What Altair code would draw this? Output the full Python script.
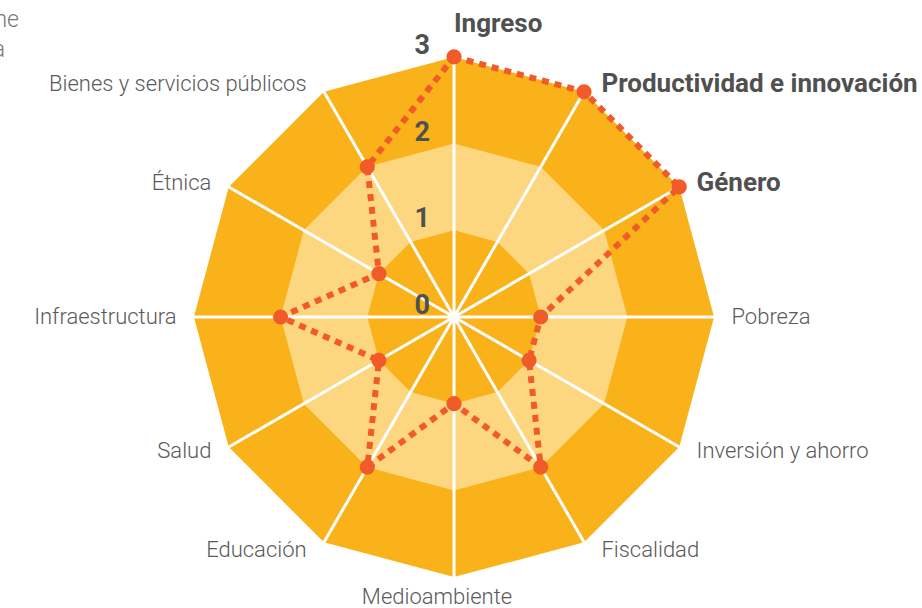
import math
import altair as alt
import pandas as pd

# ---- data ----
categories = ["Ingreso", "Productividad e innovación", "Género", "Pobreza",
              "Inversión y ahorro", "Fiscalidad", "Medioambiente", "Educación",
              "Salud", "Infraestructura", "Étnica", "Bienes y servicios públicos"]
values = [3, 3, 3, 1, 1, 2, 1, 2, 1, 2, 1, 2]
highlight = ["Ingreso", "Productividad e innovación", "Género"]
levels = [0, 1, 2, 3]
corner_note = ["ne", "a"]

MAXV = 3
DARK = "#F9B219"
LIGHT = "#FDD680"
RED = "#F15A29"
TXT = "#505050"
LTXT = "#5a5a5a"
FONT = "Roboto"

n = len(categories)
ang = [math.radians(90 - 360 / n * i) for i in range(n)]

df = pd.DataFrame({
    "cat": categories,
    "value": values,
    "idx": list(range(n)),
    "cos": [math.cos(a) for a in ang],
    "sin": [math.sin(a) for a in ang],
})
df["bold"] = df["cat"].isin(highlight)
df["x"] = df["value"] * df["cos"]
df["y"] = df["value"] * df["sin"]
df["ax"] = MAXV * df["cos"]
df["ay"] = MAXV * df["sin"]

closed = pd.concat([df, df.iloc[[0]].assign(idx=n)], ignore_index=True)

# polygon bands (symmetric dodecagon drawn as area between upper and lower halves)
def band(r):
    rows = []
    for k in range(0, 7):
        t = math.radians(30 * k)
        rows.append({"x": r * math.cos(t), "y": r * math.sin(t), "y2": -r * math.sin(t)})
    return pd.DataFrame(rows)

# pixel mapping: centre (454, 317), 86.7 px per unit
PX = 86.7
W, H = 922, 608
CX, CY = 454, 317
xs = alt.Scale(domain=[-CX / PX, (W - CX) / PX], nice=False, zero=False)
ys = alt.Scale(domain=[-(H - CY) / PX, CY / PX], nice=False, zero=False)
X = lambda f: alt.X(f, type="quantitative", scale=xs, axis=None)
Y = lambda f: alt.Y(f, type="quantitative", scale=ys, axis=None)

layers = []
for r, col in zip([3, 2, 1], [DARK, LIGHT, DARK]):
    layers.append(alt.Chart(band(r)).mark_area(color=col, opacity=1).encode(
        x=X("x"), y=Y("y"), y2="y2"))

spokes = alt.Chart(df).mark_rule(color="white", strokeWidth=3).encode(
    x=alt.X("zero:Q", scale=xs, axis=None), y=alt.Y("zero:Q", scale=ys, axis=None),
    x2="ax:Q", y2="ay:Q").transform_calculate(zero="0")
layers.append(spokes)

line = alt.Chart(closed).mark_line(color=RED, strokeWidth=6, strokeDash=[7, 6]).encode(
    x=X("x"), y=Y("y"), order="idx:Q")
layers.append(line)

pts = alt.Chart(df).mark_circle(color=RED, opacity=1, size=230).encode(x=X("x"), y=Y("y"))
layers.append(pts)

# ring labels
lv = pd.DataFrame({"lv": levels, "t": [str(v) for v in levels]})
ringlab = alt.Chart(lv).mark_text(align="right", baseline="alphabetic", font=FONT,
                                  fontWeight="bold", fontSize=27, color=TXT, dx=-24, dy=-3).encode(
    x=alt.X("z:Q", scale=xs, axis=None), y=Y("lv"), text="t:N").transform_calculate(z="0")
layers.append(ringlab)

# category labels
lab = alt.Chart(df).transform_calculate(
    lx="3*datum.cos + (datum.cos > 0.01 ? 0.2 : (datum.cos < -0.01 ? -0.2 : 0))",
    ly="3*datum.sin + (abs(datum.cos) < 0.01 ? (datum.sin > 0 ? 0.38 : -0.23) : 0.1*datum.sin)",
    side="datum.cos > 0.01 || datum.sin > 0.99 ? 'left' : (datum.cos < -0.01 ? 'right' : 'center')",
)
for side in ["left", "right", "center"]:
    for b in [True, False]:
        layers.append(lab.transform_filter(
            f"datum.side == '{side}' && datum.bold == {str(b).lower()}").mark_text(
            align=side, baseline="middle", font=FONT,
            fontWeight="bold" if b else 300,
            fontSize=26 if b else 22, color=TXT if b else LTXT,
            dx=-17 if side == "center" else 0).encode(
            x=X("lx"), y=Y("ly"), text="cat:N"))

for t, xx, yy in zip(corner_note, [19, 5], [20, 50]):
    layers.append(alt.Chart(pd.DataFrame({"t": [t]})).mark_text(
        align="right", baseline="middle", font=FONT, fontWeight=300,
        fontSize=23, color="#777777").encode(
        x=alt.value(xx), y=alt.value(yy), text="t:N"))

chart = alt.layer(*layers).properties(
    width=W, height=H, padding=0, autosize="none", background="white"
).configure_view(stroke=None)

chart.save("out.html", embed_options={"renderer": "svg", "actions": False})
